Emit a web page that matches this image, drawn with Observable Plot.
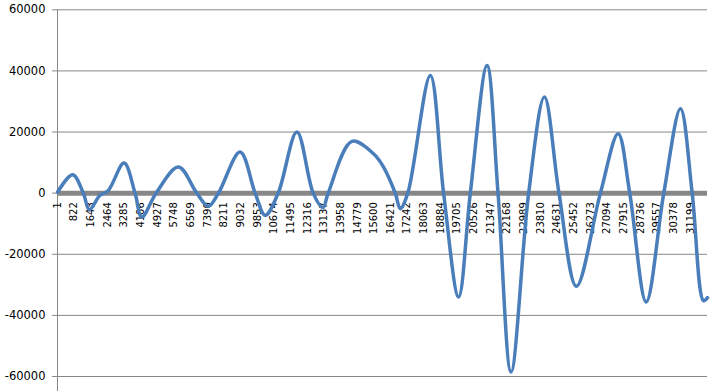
<!DOCTYPE html>
<html>
<head>
<meta charset="utf-8">
<script src="https://cdn.jsdelivr.net/npm/d3@7"></script>
<script src="https://cdn.jsdelivr.net/npm/@observablehq/plot@0.6"></script>
<style>
  html, body { margin: 0; padding: 0; background: #fff; }
  #chart svg { display: block; }
</style>
</head>
<body>
<div id="chart"></div>
<script>
// Sample index (x) and value (y)
const sampleIndex = [1, 751, 1274, 1570, 2097, 2507, 3281, 3824, 4155, 4860, 5960, 6868, 7440, 7934,
  9004, 9744, 10237, 10878, 11801, 12605, 13083, 13345, 14514, 15580, 16073, 16650, 16897, 17267,
  18377, 19033, 19773, 20350, 21173, 21716, 22357, 23226, 24001, 24721, 25578, 26762, 27636, 28208,
  29018, 29886, 30709, 31286, 31844, 32041];
const sampleValue = [300, 6000, 0, -5400, -700, 900, 9850, 0, -7800, 0, 8550, 0, -4300, 0,
  13450, 0, -7260, 0, 19980, 0, -4750, 0, 16940, 12900, 8550, 0, -5070, 0,
  38500, 0, -33970, 0, 41800, 0, -58500, 0, 31430, 0, -30480, 0, 19450, 0,
  -35600, 0, 27630, 0, -35200, -34200];

const xTickLabels = [1, 822, 1643, 2464, 3285, 4106, 4927, 5748, 6569, 7390, 8211, 9032, 9853, 10674,
  11495, 12316, 13137, 13958, 14779, 15600, 16421, 17242, 18063, 18884, 19705, 20526, 21347, 22168,
  22989, 23810, 24631, 25452, 26273, 27094, 27915, 28736, 29557, 30378, 31199];
const yTickLabels = [-60000, -40000, -20000, 0, 20000, 40000, 60000];
const xMax = 32041;

const data = sampleIndex.map((x, i) => ({x, y: sampleValue[i]}));
const gray = "#878787";

const chart = Plot.plot({
  width: 712,
  height: 391,
  marginLeft: 57,
  marginRight: 5,
  marginTop: 9.3,
  marginBottom: 15,
  style: {fontFamily: "DejaVu Sans", background: "#fff", overflow: "visible"},
  x: {domain: [1, xMax], axis: null},
  y: {domain: [-60000, 60000], axis: null},
  marks: [
    Plot.ruleY(yTickLabels.filter(d => d !== 0), {stroke: gray, strokeWidth: 1}),
    Plot.ruleX([1], {y1: 60000, y2: -66000, stroke: gray, strokeWidth: 1}),
    Plot.axisY({ticks: yTickLabels, tickSize: 5, tickPadding: 7, fontSize: 11.5,
      stroke: gray, color: "#000", tickFormat: d => String(d), label: null}),
    Plot.ruleY([0], {stroke: gray, strokeWidth: 5}),
    Plot.text(xTickLabels, {x: d => d, y: 0, text: d => String(d), rotate: -90,
      textAnchor: "end", dy: 9, fontSize: 10, fill: "#000"}),
    Plot.line(data, {x: "x", y: "y", curve: "catmull-rom", stroke: "#4a7ebb",
      strokeWidth: 3.5, strokeLinejoin: "round", strokeLinecap: "round"})
  ]
});
document.getElementById("chart").appendChild(chart);
</script>
</body>
</html>
